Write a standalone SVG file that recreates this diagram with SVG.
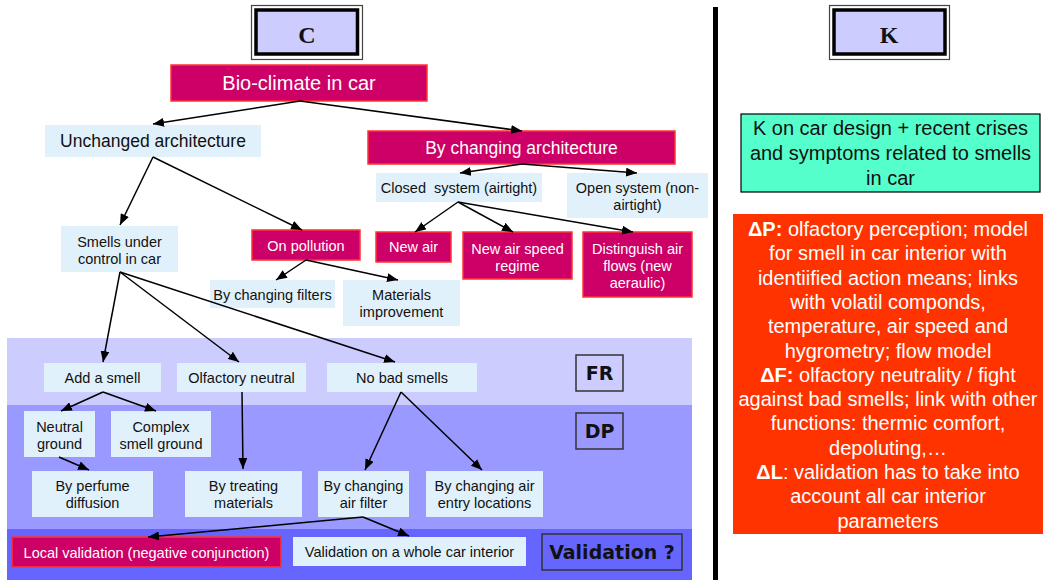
<svg xmlns="http://www.w3.org/2000/svg" width="1044" height="580" viewBox="0 0 1044 580">
<style>
text{font-family:"Liberation Sans",Arial,sans-serif;fill:#111;text-anchor:middle}
.lb{fill:#E1F1FB}
.mg{fill:#CC0066;stroke:#FF3333;stroke-width:1.5}
.w{fill:#fff}
.s{font-size:14.5px}
.m{font-size:17.5px}
.big{font-size:20px}
.tag{font-family:"DejaVu Sans",sans-serif;font-weight:bold;font-size:19px}
.tb{fill:none;stroke:#333;stroke-width:1.5}
.hdr{font-family:"Liberation Serif",serif;font-weight:bold;font-size:24px}
.cn{stroke:#000;stroke-width:1.5;fill:none;marker-end:url(#ah)}
</style>
<defs>
<marker id="ah" markerUnits="userSpaceOnUse" markerWidth="11" markerHeight="9" refX="11" refY="4.5" orient="auto">
<path d="M0,0 L11,4.5 L0,9 z" fill="#000"/>
</marker>
</defs>
<rect width="1044" height="580" fill="#fff"/>
<g id="bands">
<rect x="7" y="338" width="685" height="67" fill="#CCCCFF"/>
<rect x="7" y="405" width="685" height="124" fill="#9999FF"/>
<rect x="7" y="529" width="685" height="51" fill="#6666FF"/>
</g>
<rect x="713" y="7" width="5" height="573" fill="#000"/>
<g id="hdrC">
<rect x="251.5" y="5.5" width="111" height="54" fill="#fff" stroke="#444" stroke-width="1.2"/>
<rect x="256" y="10" width="101.5" height="44" fill="#CCCCFF" stroke="#000" stroke-width="3.5"/>
<text class="hdr" x="307" y="43">C</text>
</g>
<g id="hdrK">
<rect x="829.5" y="5.5" width="120" height="54" fill="#fff" stroke="#444" stroke-width="1.2"/>
<rect x="834" y="10" width="111" height="44" fill="#CCCCFF" stroke="#000" stroke-width="3.5"/>
<text class="hdr" x="889" y="43">K</text>
</g>
<g id="bio"><rect class="mg" x="171" y="65" width="256" height="36"/><text class="big w" x="299" y="90">Bio-climate in car</text></g>
<g id="unchanged"><rect class="lb" x="45" y="125" width="216" height="32"/><text class="m" x="153" y="147">Unchanged architecture</text></g>
<g id="bychanging"><rect class="mg" x="368" y="131" width="307" height="33"/><text class="m w" x="521.5" y="153.5">By changing architecture</text></g>
<g id="closed"><rect class="lb" x="376" y="173" width="166" height="29"/><text class="s" x="459" y="192.5" xml:space="preserve">Closed  system (airtight)</text></g>
<g id="open"><rect class="lb" x="567" y="173" width="141" height="45"/><text class="s" x="637.5" y="193">Open system (non-</text><text class="s" x="637.5" y="209.5">airtight)</text></g>
<g id="newair"><rect class="mg" x="376" y="232" width="75" height="30"/><text class="s w" x="413.5" y="252">New air</text></g>
<g id="newspeed"><rect class="mg" x="463" y="232" width="109" height="47"/><text class="s w" x="517.5" y="253.5">New air speed</text><text class="s w" x="517.5" y="270.5">regime</text></g>
<g id="distinguish"><rect class="mg" x="583" y="232" width="109" height="65"/><text class="s w" x="637.5" y="253.5">Distinguish air</text><text class="s w" x="637.5" y="270.5">flows (new</text><text class="s w" x="637.5" y="287.5">aeraulic)</text></g>
<g id="smells"><rect class="lb" x="61" y="226" width="117" height="46"/><text class="s" x="119.5" y="247">Smells under</text><text class="s" x="119.5" y="264">control in car</text></g>
<g id="pollution"><rect class="mg" x="252" y="230" width="108" height="30"/><text class="s w" x="306" y="251">On pollution</text></g>
<g id="filters"><rect class="lb" x="210" y="280" width="125" height="28"/><text class="s" x="272.5" y="300">By changing filters</text></g>
<g id="materials"><rect class="lb" x="343" y="280" width="117" height="46"/><text class="s" x="401.5" y="300">Materials</text><text class="s" x="401.5" y="317">improvement</text></g>
<g id="addsmell"><rect class="lb" x="44" y="363" width="117" height="29"/><text class="s" x="102.5" y="383">Add a smell</text></g>
<g id="olfneutral"><rect class="lb" x="177" y="363" width="129" height="29"/><text class="s" x="241.5" y="383">Olfactory neutral</text></g>
<g id="nobad"><rect class="lb" x="327" y="363" width="150" height="29"/><text class="s" x="402" y="383">No bad smells</text></g>
<g id="fr"><rect class="tb" x="576" y="355" width="47" height="36"/><text class="tag" x="599.5" y="380">FR</text></g>
<g id="dp"><rect class="tb" x="576" y="413" width="47" height="36"/><text class="tag" x="599.5" y="438">DP</text></g>
<g id="neutralground"><rect class="lb" x="24" y="411" width="71" height="46"/><text class="s" x="59.5" y="432">Neutral</text><text class="s" x="59.5" y="449">ground</text></g>
<g id="complex"><rect class="lb" x="111" y="411" width="100" height="46"/><text class="s" x="161" y="432">Complex</text><text class="s" x="161" y="449">smell ground</text></g>
<g id="perfume"><rect class="lb" x="32" y="471" width="121" height="46"/><text class="s" x="92.5" y="491">By perfume</text><text class="s" x="92.5" y="508">diffusion</text></g>
<g id="treating"><rect class="lb" x="185" y="471" width="117" height="46"/><text class="s" x="243.5" y="491">By treating</text><text class="s" x="243.5" y="508">materials</text></g>
<g id="airfilter"><rect class="lb" x="318" y="471" width="91" height="46"/><text class="s" x="363.5" y="491">By changing</text><text class="s" x="363.5" y="508">air filter</text></g>
<g id="entry"><rect class="lb" x="426" y="471" width="117" height="46"/><text class="s" x="484.5" y="491">By changing air</text><text class="s" x="484.5" y="508">entry locations</text></g>
<g id="local"><rect class="mg" x="12" y="537" width="269" height="30"/><text class="s w" x="146.5" y="557.5">Local validation (negative conjunction)</text></g>
<g id="whole"><rect class="lb" x="293" y="537" width="233" height="29"/><text class="s" x="409.5" y="557">Validation on a whole car interior</text></g>
<g id="validq"><rect class="tb" x="542" y="534" width="140" height="36"/><text class="tag" x="612" y="559">Validation ?</text></g>
<g id="kdesign"><rect x="741" y="114" width="299" height="78" fill="#55FFCC" stroke="#000" stroke-width="1.2"/>
<text class="big" x="890.5" y="135">K on car design + recent crises</text>
<text class="big" x="890.5" y="160">and symptoms related to smells</text>
<text class="big" x="890.5" y="185">in car</text></g>
<g id="delta"><rect x="733" y="214" width="310" height="320" fill="#FF3300"/>
<g class="big">
<text class="w" x="888" y="236"><tspan font-weight="bold">ΔP:</tspan> olfactory perception; model</text>
<text class="w" x="888" y="260.3">for smell in car interior with</text>
<text class="w" x="888" y="284.6">identiified action means; links</text>
<text class="w" x="888" y="308.9">with volatil componds,</text>
<text class="w" x="888" y="333.2">temperature, air speed and</text>
<text class="w" x="888" y="357.5">hygrometry; flow model</text>
<text class="w" x="888" y="381.8"><tspan font-weight="bold">ΔF:</tspan> olfactory neutrality / fight</text>
<text class="w" x="888" y="406.1">against bad smells; link with other</text>
<text class="w" x="888" y="430.4">functions: thermic comfort,</text>
<text class="w" x="888" y="454.7">depoluting,…</text>
<text class="w" x="888" y="479"><tspan font-weight="bold">ΔL</tspan>: validation has to take into</text>
<text class="w" x="888" y="503.3">account all car interior</text>
<text class="w" x="888" y="527.6">parameters</text>
</g></g>
<g id="connectors">
<line class="cn" x1="300" y1="101" x2="153" y2="124"/>
<line class="cn" x1="300" y1="101" x2="522" y2="131"/>
<line class="cn" x1="153" y1="157" x2="120" y2="225"/>
<line class="cn" x1="153" y1="157" x2="302" y2="230"/>
<line class="cn" x1="522" y1="164" x2="460" y2="173"/>
<line class="cn" x1="522" y1="164" x2="637" y2="173"/>
<line class="cn" x1="458" y1="202" x2="415" y2="232"/>
<line class="cn" x1="458" y1="202" x2="513" y2="232"/>
<line class="cn" x1="458" y1="202" x2="633" y2="232"/>
<line class="cn" x1="306" y1="260" x2="276" y2="280"/>
<line class="cn" x1="306" y1="260" x2="398" y2="280"/>
<line class="cn" x1="120" y1="272" x2="103" y2="362"/>
<line class="cn" x1="120" y1="272" x2="239" y2="362"/>
<line class="cn" x1="120" y1="272" x2="395" y2="362"/>
<line class="cn" x1="103" y1="392" x2="61" y2="411"/>
<line class="cn" x1="103" y1="392" x2="156" y2="411"/>
<line class="cn" x1="242" y1="392" x2="243" y2="469"/>
<line class="cn" x1="59" y1="457" x2="89" y2="470"/>
<line class="cn" x1="401" y1="392" x2="365" y2="470"/>
<line class="cn" x1="401" y1="392" x2="482" y2="470"/>
<line class="cn" x1="363" y1="517" x2="148" y2="537"/>
<line class="cn" x1="363" y1="517" x2="409" y2="536"/>
</g>
</svg>
